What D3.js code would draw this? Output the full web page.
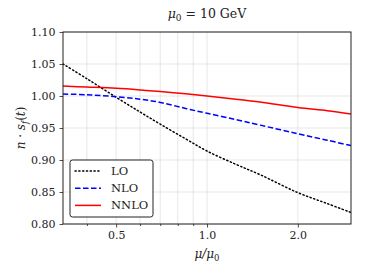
<!DOCTYPE html>
<meta charset="utf-8">
<title>scale variation</title>
<body>
<script src="https://cdn.jsdelivr.net/npm/d3@7"></script>
<style>
html, body { margin: 0; background: #fff; }
svg { display: block; }
svg text { font-family: 'DejaVu Serif', serif; }
</style>
<script>
var width = 368,
    height = 276,
    margin = {top: 32, right: 17, bottom: 52, left: 63};

var mu = [1/3, 0.4, 0.5, 0.6, 0.7, 0.85, 1.0, 1.25, 1.5, 2.0, 2.5, 3.0];
var lo = [1.050, 1.027, 0.998, 0.975, 0.956, 0.933, 0.914, 0.893, 0.877, 0.849, 0.832, 0.818];
var nlo = [1.003, 1.002, 0.999, 0.995, 0.990, 0.9805, 0.973, 0.963, 0.9545, 0.941, 0.931, 0.9225];
var nnlo = [1.0155, 1.014, 1.012, 1.0095, 1.007, 1.0035, 1.000, 0.995, 0.9905, 0.982, 0.977, 0.972];

var xTicks = [0.4, 0.5, 0.6, 0.7, 0.8, 0.9, 1.0, 2.0];
var xLabels = {0.5: "0.5", 1.0: "1.0", 2.0: "2.0"};
var yTicks = [0.80, 0.85, 0.90, 0.95, 1.00, 1.05, 1.10];

var series = [
    {name: "LO", values: lo, color: "black", dash: "1.2,2.6", cap: "round"},
    {name: "NLO", values: nlo, color: "#0000ff", dash: "5.5,2.5", cap: "butt"},
    {name: "NNLO", values: nnlo, color: "#ff0000", dash: null, cap: "butt"}
];

var svg = d3.select("body").append("svg")
    .attr("width", width)
    .attr("height", height);

var x = d3.scaleLog().domain([1/3, 3]).range([margin.left, width - margin.right]),
    y = d3.scaleLinear().domain([0.80, 1.10]).range([height - margin.bottom, margin.top]);

// grid
svg.append("g").selectAll("line").data(xTicks).enter().append("line")
    .attr("x1", x).attr("x2", x)
    .attr("y1", margin.top).attr("y2", height - margin.bottom)
    .attr("stroke", "#b0b0b0").attr("stroke-opacity", 0.5).attr("stroke-width", 0.6);
svg.append("g").selectAll("line").data(yTicks).enter().append("line")
    .attr("y1", y).attr("y2", y)
    .attr("x1", margin.left).attr("x2", width - margin.right)
    .attr("stroke", "#b0b0b0").attr("stroke-opacity", 0.5).attr("stroke-width", 0.6);

// curves
var line = d3.line()
    .x(function(d) { return x(d[0]); })
    .y(function(d) { return y(d[1]); })
    .curve(d3.curveCatmullRom.alpha(0.5));

svg.append("clipPath").attr("id", "clip").append("rect")
    .attr("x", margin.left).attr("y", margin.top)
    .attr("width", width - margin.left - margin.right)
    .attr("height", height - margin.top - margin.bottom);

svg.append("g").attr("clip-path", "url(#clip)").selectAll("path")
    .data(series).enter().append("path")
    .attr("fill", "none")
    .attr("stroke", function(d) { return d.color; })
    .attr("stroke-width", 1.5)
    .attr("stroke-dasharray", function(d) { return d.dash; })
    .attr("stroke-linecap", function(d) { return d.cap; })
    .attr("d", function(d) { return line(d.values.map(function(v, i) { return [mu[i], v]; })); });

// axes
var xAxis = d3.axisBottom(x).tickValues(xTicks)
    .tickSize(3.5).tickPadding(4)
    .tickFormat(function(d) { return xLabels[d] || ""; });
var gx = svg.append("g")
    .attr("transform", "translate(0," + (height - margin.bottom) + ")")
    .call(xAxis);

var yAxis = d3.axisLeft(y).tickValues(yTicks)
    .tickSize(3.5).tickPadding(4)
    .tickFormat(d3.format(".2f"));
var gy = svg.append("g")
    .attr("transform", "translate(" + margin.left + ",0)")
    .call(yAxis);

[gx, gy].forEach(function(g) {
    g.attr("font-family", null).attr("font-size", 11);
    g.select(".domain").remove();
    g.selectAll("text").attr("fill", "#222");
    g.selectAll("line").attr("stroke", "#222").attr("stroke-width", 0.8);
});
gx.selectAll(".tick").filter(function(d) { return !xLabels[d]; }).select("line").attr("y2", 2);

svg.append("rect")
    .attr("x", margin.left).attr("y", margin.top)
    .attr("width", width - margin.left - margin.right)
    .attr("height", height - margin.top - margin.bottom)
    .attr("fill", "none").attr("stroke", "#222").attr("stroke-width", 1);

// title
var title = svg.append("text")
    .attr("x", (margin.left + width - margin.right) / 2)
    .attr("y", 18)
    .attr("text-anchor", "middle")
    .attr("font-size", 12.5)
    .attr("fill", "#222");
title.append("tspan").attr("font-style", "italic").text("μ");
title.append("tspan").attr("font-size", 9).attr("dy", 2.5).text("0");
title.append("tspan").attr("dy", -2.5).text(" = 10 GeV");

// x label
var xl = svg.append("text")
    .attr("x", (margin.left + width - margin.right) / 2)
    .attr("y", 258)
    .attr("text-anchor", "middle")
    .attr("font-size", 12)
    .attr("fill", "#222");
xl.append("tspan").attr("font-style", "italic").text("μ/μ");
xl.append("tspan").attr("font-size", 8.5).attr("dy", 2.5).text("0");

// y label
var yl = svg.append("text")
    .attr("transform", "translate(25," + ((margin.top + height - margin.bottom) / 2) + ") rotate(-90)")
    .attr("text-anchor", "middle")
    .attr("font-size", 12)
    .attr("fill", "#222");
yl.append("tspan").attr("font-style", "italic").text("n");
yl.append("tspan").text(" · ");
yl.append("tspan").attr("font-style", "italic").text("s");
yl.append("tspan").attr("font-style", "italic").attr("font-size", 8.5).attr("dy", 2.5).text("f");
yl.append("tspan").attr("dy", -2.5).text("(");
yl.append("tspan").attr("font-style", "italic").text("t");
yl.append("tspan").text(")");

// legend
var legend = svg.append("g").attr("transform", "translate(70,160)");
legend.append("rect")
    .attr("width", 83).attr("height", 57)
    .attr("rx", 2.5)
    .attr("fill", "white").attr("fill-opacity", 0.9)
    .attr("stroke", "#222").attr("stroke-width", 1);
var item = legend.selectAll("g.item").data(series).enter().append("g")
    .attr("class", "item")
    .attr("transform", function(d, i) { return "translate(0," + (11 + i * 17.2) + ")"; });
item.append("line")
    .attr("x1", 5).attr("x2", 31)
    .attr("stroke", function(d) { return d.color; })
    .attr("stroke-width", 1.5)
    .attr("stroke-dasharray", function(d) { return d.dash; })
    .attr("stroke-linecap", function(d) { return d.cap; });
item.append("text")
    .attr("x", 41).attr("dy", "0.35em")
    .attr("font-size", 11.5)
    .attr("fill", "#222")
    .text(function(d) { return d.name; });
</script>
